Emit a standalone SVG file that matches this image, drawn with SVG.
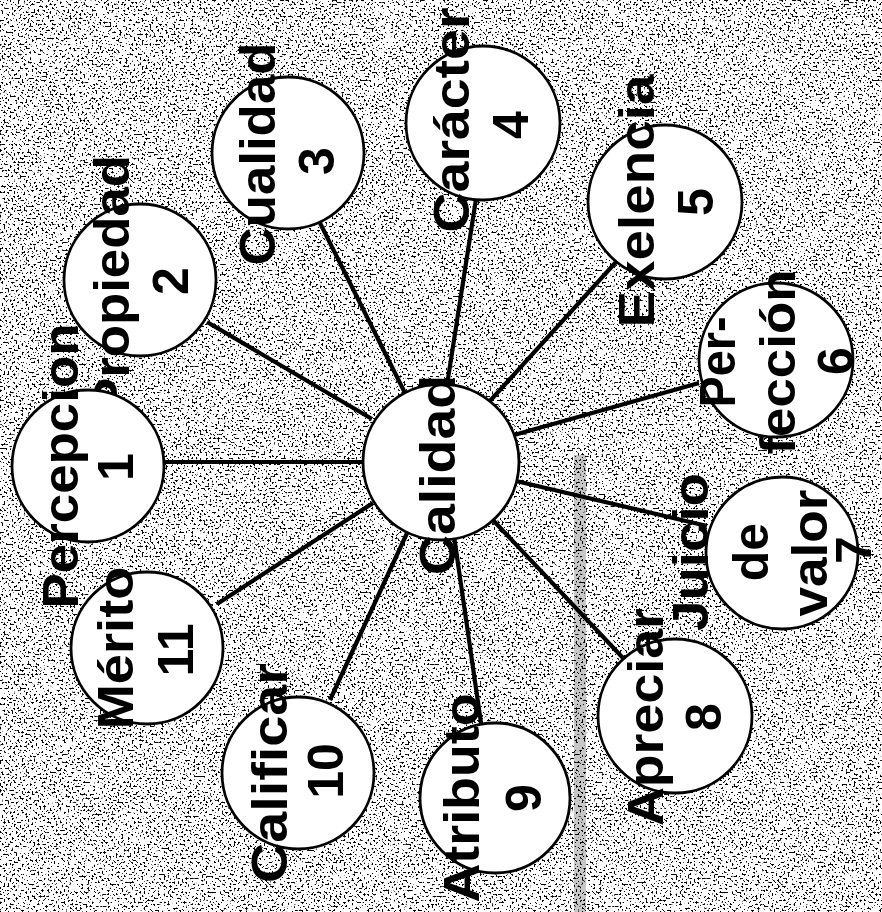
<svg xmlns="http://www.w3.org/2000/svg" width="882" height="912" viewBox="0 0 882 912">
<style>
.node circle{fill:#fff;stroke:#000;stroke-width:2.8}
.node text{font-family:"Liberation Sans",Arial,sans-serif;font-weight:bold;font-size:50px;fill:#000;text-anchor:middle}
#connectors line{stroke:#000;stroke-width:4.2;stroke-linecap:butt}
</style>
<defs>
<filter id="speck" x="0" y="0" width="882" height="912" filterUnits="userSpaceOnUse" color-interpolation-filters="sRGB">
<feTurbulence type="fractalNoise" baseFrequency="0.5" numOctaves="2" seed="7"/>
<feColorMatrix type="matrix" values="0 0 0 0 0  0 0 0 0 0  0 0 0 0 0  -16 0 0 0 6.6"/>
</filter>
</defs>
<rect x="0" y="0" width="882" height="912" fill="#fff"/>
<rect x="0" y="0" width="882" height="912" fill="#000" filter="url(#speck)"/>
<rect x="574" y="455" width="12" height="457" fill="#000" opacity="0.22"/>
<g id="connectors">
<line x1="165" y1="462" x2="363" y2="462"/>
<line x1="207" y1="322" x2="372" y2="419"/>
<line x1="320" y1="223" x2="405" y2="393"/>
<line x1="476" y1="199" x2="447" y2="385"/>
<line x1="616" y1="262" x2="489" y2="402"/>
<line x1="699" y1="383" x2="514" y2="435"/>
<line x1="516" y1="481" x2="707" y2="526"/>
<line x1="491" y1="518" x2="623" y2="658"/>
<line x1="454" y1="536" x2="481" y2="723"/>
<line x1="408" y1="531" x2="330" y2="700"/>
<line x1="373" y1="503" x2="217" y2="604"/>
</g>
<g id="calidad" class="node">
<circle cx="441" cy="462" r="78"/>
<text transform="translate(455,475) rotate(-90)" textLength="200" lengthAdjust="spacingAndGlyphs">Calidad</text>
</g>
<g id="propiedad" class="node">
<circle cx="140" cy="280" r="76"/>
<text transform="translate(129,284) rotate(-90)" textLength="258" lengthAdjust="spacingAndGlyphs">Propiedad</text>
<text transform="translate(188,281) rotate(-90)">2</text>
</g>
<g id="percepcion" class="node">
<circle cx="88" cy="466" r="76"/>
<text transform="translate(78,466) rotate(-90)" textLength="285" lengthAdjust="spacingAndGlyphs">Percepcion</text>
<text transform="translate(133,467) rotate(-90)">1</text>
</g>
<g id="cualidad" class="node">
<circle cx="288" cy="153" r="76"/>
<text transform="translate(275,154) rotate(-90)" textLength="223" lengthAdjust="spacingAndGlyphs">Cualidad</text>
<text transform="translate(334,161) rotate(-90)">3</text>
</g>
<g id="caracter" class="node">
<circle cx="483" cy="123" r="77"/>
<text transform="translate(469,120) rotate(-90)" textLength="225" lengthAdjust="spacingAndGlyphs">Carácter</text>
<text transform="translate(528,125) rotate(-90)">4</text>
</g>
<g id="exelencia" class="node">
<circle cx="665" cy="202" r="77"/>
<text transform="translate(654,201) rotate(-90)" textLength="253" lengthAdjust="spacingAndGlyphs">Exelencia</text>
<text transform="translate(713,202) rotate(-90)">5</text>
</g>
<g id="perfeccion" class="node">
<circle cx="776" cy="360" r="77"/>
<text transform="translate(735,362) rotate(-90)" textLength="91" lengthAdjust="spacingAndGlyphs">Per-</text>
<text transform="translate(795,362) rotate(-90)" textLength="185" lengthAdjust="spacingAndGlyphs">fección</text>
<text transform="translate(853,361) rotate(-90)">6</text>
</g>
<g id="juicio" class="node">
<circle cx="782" cy="553" r="76"/>
<text transform="translate(708,552) rotate(-90)" textLength="158" lengthAdjust="spacingAndGlyphs">Juicio</text>
<text transform="translate(768,552) rotate(-90)">de</text>
<text transform="translate(827,553) rotate(-90)" textLength="127" lengthAdjust="spacingAndGlyphs">valor</text>
<text transform="translate(871,550) rotate(-90)">7</text>
</g>
<g id="apreciar" class="node">
<circle cx="675" cy="716" r="77"/>
<text transform="translate(663,717) rotate(-90)" textLength="218" lengthAdjust="spacingAndGlyphs">Apreciar</text>
<text transform="translate(721,717) rotate(-90)">8</text>
</g>
<g id="atributo" class="node">
<circle cx="495" cy="798" r="75"/>
<text transform="translate(479,798) rotate(-90)" textLength="209" lengthAdjust="spacingAndGlyphs">Atributo</text>
<text transform="translate(541,798) rotate(-90)">9</text>
</g>
<g id="calificar" class="node">
<circle cx="298" cy="773" r="76"/>
<text transform="translate(287,773) rotate(-90)" textLength="220" lengthAdjust="spacingAndGlyphs">Calificar</text>
<text transform="translate(343,771) rotate(-90)">10</text>
</g>
<g id="merito" class="node">
<circle cx="147" cy="648" r="76"/>
<text transform="translate(133,648) rotate(-90)" textLength="163" lengthAdjust="spacingAndGlyphs">Mérito</text>
<text transform="translate(193,650) rotate(-90)">11</text>
</g>
</svg>
